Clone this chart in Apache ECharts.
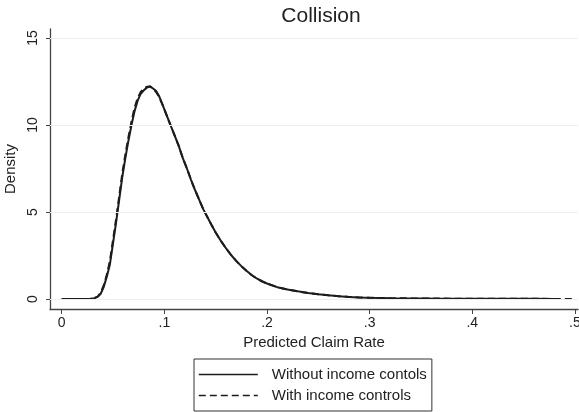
<!DOCTYPE html>
<html>
<head>
<meta charset="utf-8">
<script src="https://cdn.jsdelivr.net/npm/echarts@6/dist/echarts.min.js"></script>
<style>
  html, body { margin: 0; padding: 0; background: #fff; }
  #chart { width: 579px; height: 412px; }
</style>
</head>
<body>
<div id="chart"></div>
<script>
// Kernel density of predicted collision claim rates
const claimRate = [0.000, 0.010, 0.020, 0.028, 0.032, 0.035, 0.038, 0.041, 0.044, 0.047,
  0.050, 0.053, 0.056, 0.059, 0.062, 0.065, 0.068, 0.071, 0.074, 0.077,
  0.080, 0.083, 0.086, 0.089, 0.092, 0.095, 0.098, 0.102, 0.106, 0.110,
  0.114, 0.118, 0.122, 0.126, 0.130, 0.134, 0.138, 0.142, 0.146, 0.150,
  0.155, 0.160, 0.165, 0.170, 0.175, 0.180, 0.185, 0.190, 0.195, 0.200,
  0.210, 0.220, 0.230, 0.240, 0.250, 0.260, 0.270, 0.280, 0.290, 0.300,
  0.320, 0.340, 0.360, 0.380, 0.400, 0.420, 0.440, 0.460, 0.480, 0.490, 0.500];

const densityNoIncome = [0, 0, 0, 0.01, 0.05, 0.12, 0.3, 0.7, 1.3, 2.0,
  3.2, 4.4, 5.7, 7.0, 8.1, 9.1, 10.0, 10.8, 11.4, 11.8,
  12.0, 12.15, 12.22, 12.1, 11.95, 11.65, 11.2, 10.6, 10.0, 9.4,
  8.8, 8.1, 7.5, 6.85, 6.25, 5.7, 5.15, 4.7, 4.25, 3.82,
  3.35, 2.92, 2.53, 2.19, 1.89, 1.62, 1.38, 1.18, 1.02, 0.89,
  0.68, 0.55, 0.44, 0.34, 0.27, 0.21, 0.16, 0.12, 0.09, 0.07,
  0.05, 0.035, 0.025, 0.02, 0.015, 0.012, 0.01, 0.008, 0.006];

const densityWithIncome = [0, 0, 0, 0.01, 0.06, 0.14, 0.35, 0.8, 1.4, 2.2,
  3.4, 4.6, 5.9, 7.2, 8.3, 9.3, 10.2, 11.0, 11.55, 11.9,
  12.1, 12.2, 12.22, 12.1, 11.9, 11.6, 11.2, 10.6, 10.0, 9.4,
  8.8, 8.1, 7.5, 6.85, 6.25, 5.7, 5.15, 4.7, 4.25, 3.82,
  3.35, 2.92, 2.53, 2.19, 1.89, 1.62, 1.38, 1.18, 1.02, 0.89,
  0.68, 0.55, 0.44, 0.34, 0.27, 0.21, 0.16, 0.12, 0.09, 0.07,
  0.05, 0.035, 0.025, 0.02, 0.015, 0.012, 0.01, 0.008, 0.006, 0.005, 0.004];

const xTicks = [0, 0.1, 0.2, 0.3, 0.4, 0.5];
const yTicks = [0, 5, 10, 15];
const seriesNames = ['Without income contols', 'With income controls'];

const FONT = '"Liberation Sans", Arial, Helvetica, sans-serif';
const INK = '#1c1c1c';
const AXIS = '#444';

function pairs(xs, ys) {
  return ys.map((y, i) => [xs[i], y]);
}
function fmtX(v) {
  return v === 0 ? '0' : String(v).replace(/^0/, '');
}

const chart = echarts.init(document.getElementById('chart'), null, { renderer: 'canvas' });
chart.setOption({
  animation: false,
  backgroundColor: '#fff',
  title: {
    text: 'Collision',
    left: 316,
    top: 1,
    textAlign: 'center',
    textStyle: { fontFamily: FONT, fontSize: 21, fontWeight: 'normal', color: '#222' }
  },
  grid: { left: 50, right: 1, top: 29, bottom: 103, containLabel: false, outerBoundsMode: 'none' },
  xAxis: {
    type: 'value',
    min: -0.0114,
    max: 0.503,
    name: 'Predicted Claim Rate',
    nameLocation: 'middle',
    nameGap: 25,
    nameTextStyle: { fontFamily: FONT, fontSize: 15, color: '#222' },
    axisLine: { show: true, onZero: false, lineStyle: { color: AXIS, width: 1.3 } },
    axisTick: { show: true, length: 5, customValues: xTicks, lineStyle: { color: AXIS, width: 1 } },
    axisLabel: { customValues: xTicks, formatter: fmtX, margin: 7, hideOverlap: false,
      fontFamily: FONT, fontSize: 14, color: '#222' },
    splitLine: { show: false }
  },
  yAxis: {
    type: 'value',
    min: -0.575,
    max: 15.52,
    name: 'Density',
    nameLocation: 'middle',
    nameRotate: 90,
    nameGap: 27,
    nameTextStyle: { fontFamily: FONT, fontSize: 15, color: '#222' },
    axisLine: { show: true, onZero: false, lineStyle: { color: AXIS, width: 1.3 } },
    axisTick: { show: true, length: 4, customValues: yTicks, lineStyle: { color: AXIS, width: 1 } },
    axisLabel: { customValues: yTicks, rotate: 90, margin: 10,
      fontFamily: FONT, fontSize: 14, color: '#222' },
    splitLine: { show: false }
  },
  legend: {
    data: seriesNames,
    orient: 'vertical',
    left: 194,
    top: 359,
    padding: [8, 5, 8, 4],
    itemGap: 6,
    itemWidth: 59,
    itemHeight: 14,
    borderColor: '#333',
    borderWidth: 1,
    itemStyle: { color: 'transparent', borderColor: 'transparent', borderWidth: 0, opacity: 0 },
    lineStyle: { width: 1.6 },
    textStyle: { fontFamily: FONT, fontSize: 15, color: '#222', padding: [0, 0, 0, 9] }
  },
  series: [
    {
      name: seriesNames[0],
      type: 'line',
      data: pairs(claimRate, densityNoIncome),
      symbol: 'none',
      smooth: false,
      lineStyle: { color: INK, width: 2, type: 'solid' },
      itemStyle: { color: INK },
      markLine: {
        silent: true,
        symbol: 'none',
        label: { show: false },
        lineStyle: { color: '#eeeeee', width: 1, type: 'solid' },
        data: yTicks.map(v => ({ yAxis: v }))
      },
      z: 3
    },
    {
      name: seriesNames[1],
      type: 'line',
      data: pairs(claimRate, densityWithIncome),
      symbol: 'none',
      smooth: false,
      lineStyle: { color: INK, width: 2, type: [7, 4] },
      itemStyle: { color: INK },
      z: 2
    }
  ]
});
</script>
</body>
</html>
